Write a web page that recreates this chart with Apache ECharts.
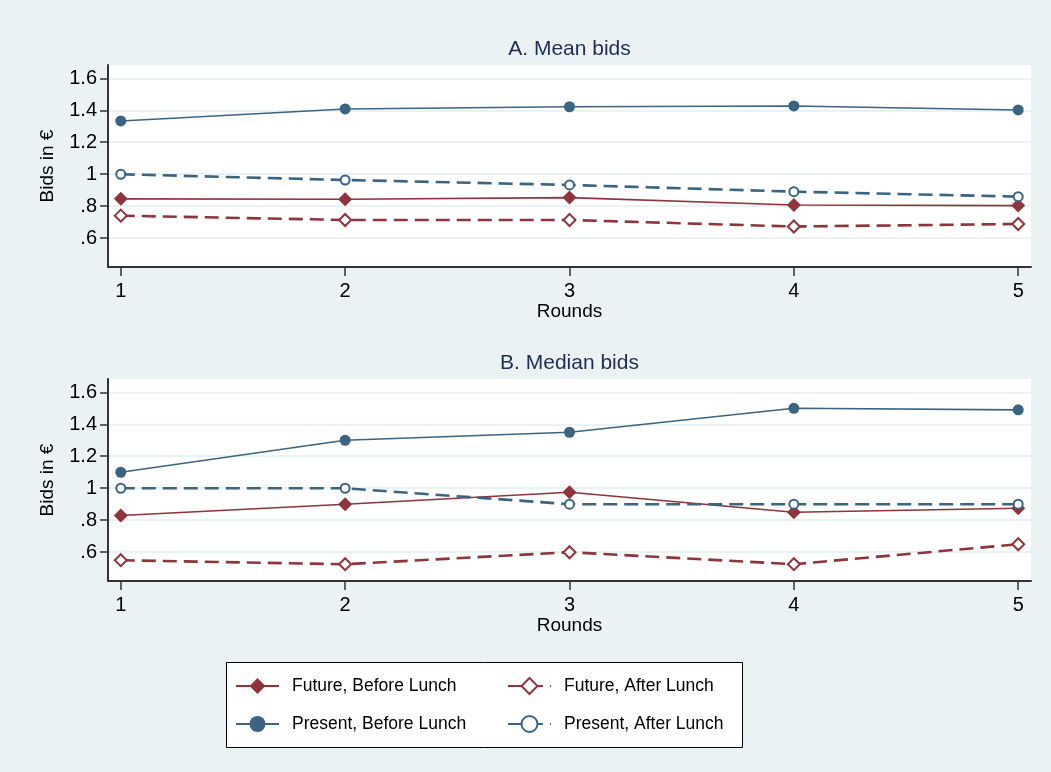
<!DOCTYPE html>
<html>
<head>
<meta charset="utf-8">
<script src="https://cdn.jsdelivr.net/npm/echarts@6/dist/echarts.min.js"></script>
<style>
  html, body { margin: 0; padding: 0; background: #eaf2f3; }
  #chart { width: 1051px; height: 772px; }
</style>
</head>
<body>
<div id="chart"></div>
<script>
// Rounds on the x axis and tick values on both y axes
const rounds = [1, 2, 3, 4, 5];
const yTicks = [0.6, 0.8, 1, 1.2, 1.4, 1.6];

const seriesNames = ['Future, Before Lunch', 'Future, After Lunch', 'Present, Before Lunch', 'Present, After Lunch'];

// Panel A: mean bids per round
const meanFutureBefore  = [0.846, 0.844, 0.854, 0.808, 0.804];
const meanFutureAfter   = [0.741, 0.714, 0.714, 0.673, 0.689];
const meanPresentBefore = [1.333, 1.408, 1.422, 1.427, 1.402];
const meanPresentAfter  = [1.0, 0.964, 0.933, 0.891, 0.860];

// Panel B: median bids per round
const medFutureBefore  = [0.83, 0.9, 0.975, 0.85, 0.875];
const medFutureAfter   = [0.55, 0.525, 0.6, 0.525, 0.65];
const medPresentBefore = [1.1, 1.3, 1.35, 1.5, 1.49];
const medPresentAfter  = [1.0, 1.0, 0.9, 0.9, 0.9];

const RED = '#8e343a';
const BLUE = '#3a6482';
const FONT = 'Liberation Sans, Arial, sans-serif';

const styles = [
  { color: RED,  line: 'solid',  width: 1.6, symbol: 'diamond',      size: 14, border: 0 },
  { color: RED,  line: [14, 7],  width: 2.6, symbol: 'emptyDiamond', size: 12, border: 1.8 },
  { color: BLUE, line: 'solid',  width: 1.6, symbol: 'circle',       size: 11, border: 0 },
  { color: BLUE, line: [14, 7],  width: 2.6, symbol: 'emptyCircle',  size: 9,  border: 1.8 }
];

function pairs(vals) { return rounds.map((r, i) => [r, vals[i]]); }

function makeSeries(values, axisIdx) {
  return values.map((vals, k) => ({
    name: seriesNames[k],
    type: 'line',
    xAxisIndex: axisIdx,
    yAxisIndex: axisIdx,
    data: pairs(vals),
    symbol: styles[k].symbol,
    symbolSize: styles[k].size,
    showAllSymbol: true,
    lineStyle: { color: styles[k].color, width: styles[k].width, type: styles[k].line },
    itemStyle: { color: styles[k].color, borderColor: styles[k].color, borderWidth: styles[k].border },
    emphasis: { disabled: true },
    z: 3
  }));
}

function yAxisDef(gridIdx) {
  return {
    type: 'value', gridIndex: gridIdx,
    min: 0.42, max: 1.683,
    name: 'Bids in €', nameLocation: 'middle', nameGap: 51, nameRotate: 90,
    nameTextStyle: { fontFamily: FONT, fontSize: 19, color: '#000' },
    axisLine: { show: true, lineStyle: { color: '#333', width: 2 } },
    axisTick: { show: true, length: 8, customValues: yTicks, lineStyle: { color: '#333', width: 1.5 } },
    axisLabel: {
      customValues: yTicks, margin: 11, fontFamily: FONT, fontSize: 20, color: '#000',
      formatter: v => (Math.abs(v - 1) < 1e-9 ? '1' : String(+v.toFixed(1)).replace(/^0\./, '.'))
    },
    splitLine: { show: true, lineStyle: { color: '#eaf2f3', width: 2 } }
  };
}

function xAxisDef(gridIdx) {
  return {
    type: 'value', gridIndex: gridIdx,
    min: 0.943, max: 5.057,
    name: 'Rounds', nameLocation: 'middle', nameGap: 33,
    nameTextStyle: { fontFamily: FONT, fontSize: 19, color: '#000' },
    axisLine: { show: true, onZero: false, lineStyle: { color: '#333', width: 2 } },
    axisTick: { show: true, length: 9, customValues: rounds, lineStyle: { color: '#333', width: 1.5 } },
    axisLabel: { customValues: rounds, margin: 14, fontFamily: FONT, fontSize: 20, color: '#000' },
    splitLine: { show: false }
  };
}

const legendCommon = {
  orient: 'vertical', itemWidth: 43, itemHeight: 20, itemGap: 20,
  selectedMode: false, padding: 0,
  textStyle: { fontFamily: FONT, fontSize: 17.5, color: '#000', padding: [0, 0, 0, 8] }
};

const chart = echarts.init(document.getElementById('chart'), null, { renderer: 'canvas' });
chart.setOption({
  animation: false,
  backgroundColor: '#eaf2f3',
  title: [
    { text: 'A. Mean bids', left: 569.5, top: 39, textAlign: 'center', padding: 0,
      textStyle: { fontFamily: FONT, fontSize: 21, fontWeight: 'normal', color: '#1e2d53' } },
    { text: 'B. Median bids', left: 569.5, top: 353, textAlign: 'center', padding: 0,
      textStyle: { fontFamily: FONT, fontSize: 21, fontWeight: 'normal', color: '#1e2d53' } }
  ],
  grid: [
    { left: 108, right: 20, top: 65, height: 202, show: true, backgroundColor: '#fff', borderWidth: 0 },
    { left: 108, right: 20, top: 379, height: 202, show: true, backgroundColor: '#fff', borderWidth: 0 }
  ],
  xAxis: [xAxisDef(0), xAxisDef(1)],
  yAxis: [yAxisDef(0), yAxisDef(1)],
  legend: [
    Object.assign({ left: 235, top: 677, data: [seriesNames[0], seriesNames[2]] }, legendCommon),
    Object.assign({ left: 507, top: 677, data: [seriesNames[1], seriesNames[3]] }, legendCommon)
  ],
  graphic: [
    { type: 'rect', left: 226, top: 662, z: -1, silent: true,
      shape: { width: 516, height: 85 },
      style: { fill: '#fff', stroke: '#000', lineWidth: 1 } }
  ],
  series: [].concat(
    makeSeries([meanFutureBefore, meanFutureAfter, meanPresentBefore, meanPresentAfter], 0),
    makeSeries([medFutureBefore, medFutureAfter, medPresentBefore, medPresentAfter], 1)
  )
});
</script>
</body>
</html>
